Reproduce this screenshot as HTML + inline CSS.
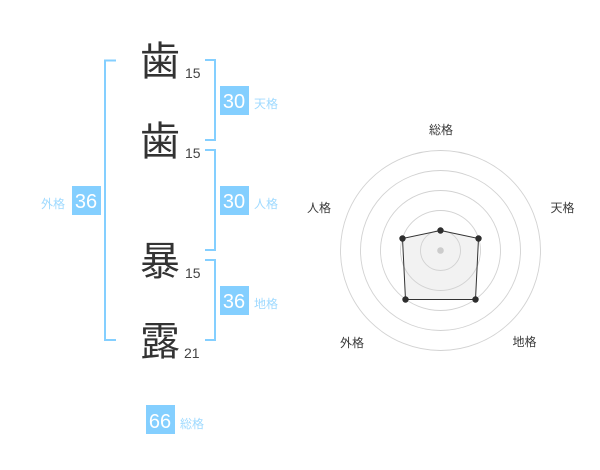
<!DOCTYPE html>
<html><head><meta charset="utf-8"><style>
html,body{margin:0;padding:0;background:#fff}
svg{display:block}
text{font-family:"Liberation Sans","Noto Sans CJK JP",sans-serif}
.k{font-size:40px;fill:#333;text-anchor:middle}
.n{font-size:14px;fill:#444}
.b{font-size:20px;fill:#fff;text-anchor:middle}
.l{font-size:12px;fill:#9fdaff}
.r{font-size:12px;fill:#3a3a3a;text-anchor:middle}
</style></head><body>
<svg width="600" height="470" viewBox="0 0 600 470" xmlns="http://www.w3.org/2000/svg">
<g fill="none" stroke="#84cfff" stroke-width="2">
<path d="M116 60.5H105V340H116"/>
<path d="M205 60H215V140H205"/>
<path d="M205 150H215V250H205"/>
<path d="M205 260H215V340H205"/>
</g>
<text class="k" x="160" y="75">歯</text>
<text class="k" x="160" y="155">歯</text>
<text class="k" x="160" y="275">暴</text>
<text class="k" x="160" y="355">露</text>
<text class="n" x="185" y="78">15</text>
<text class="n" x="185" y="158">15</text>
<text class="n" x="185" y="278">15</text>
<text class="n" x="184" y="358">21</text>
<g fill="#84cfff">
<rect x="220" y="86" width="29" height="29"/>
<rect x="220" y="186" width="29" height="29"/>
<rect x="220" y="286" width="29" height="29"/>
<rect x="72" y="186" width="29" height="29"/>
<rect x="146" y="405" width="29" height="29"/>
</g>
<text class="b" x="234" y="108">30</text>
<text class="b" x="234" y="208">30</text>
<text class="b" x="234" y="308">36</text>
<text class="b" x="86" y="208">36</text>
<text class="b" x="160" y="428">66</text>
<text class="l" x="254" y="108">天格</text>
<text class="l" x="254" y="208">人格</text>
<text class="l" x="254" y="308">地格</text>
<text class="l" x="41" y="208">外格</text>
<text class="l" x="180" y="428">総格</text>
<polygon points="440.5,230.5 478.5,238.5 475.5,299.5 405.5,299.5 402.5,238.5" fill="#f2f2f2"/>
<g fill="none" stroke="#d2d2d2" stroke-width="0.9">
<circle cx="440.5" cy="250.5" r="20"/>
<circle cx="440.5" cy="250.5" r="40"/>
<circle cx="440.5" cy="250.5" r="60"/>
<circle cx="440.5" cy="250.5" r="80"/>
<circle cx="440.5" cy="250.5" r="100"/>
</g>
<polygon points="440.5,230.5 478.5,238.5 475.5,299.5 405.5,299.5 402.5,238.5" fill="none" stroke="#333" stroke-width="1"/>
<circle cx="440.5" cy="250.5" r="3.3" fill="#ccc"/>
<g fill="#2e2e2e">
<circle cx="440.5" cy="230.5" r="3.2"/>
<circle cx="478.5" cy="238.5" r="3.2"/>
<circle cx="475.5" cy="299.5" r="3.2"/>
<circle cx="405.5" cy="299.5" r="3.2"/>
<circle cx="402.5" cy="238.5" r="3.2"/>
</g>
<text class="r" x="441" y="134">総格</text>
<text class="r" x="562.5" y="212">天格</text>
<text class="r" x="524.5" y="346">地格</text>
<text class="r" x="352" y="347">外格</text>
<text class="r" x="319" y="212">人格</text>
</svg>
</body></html>
